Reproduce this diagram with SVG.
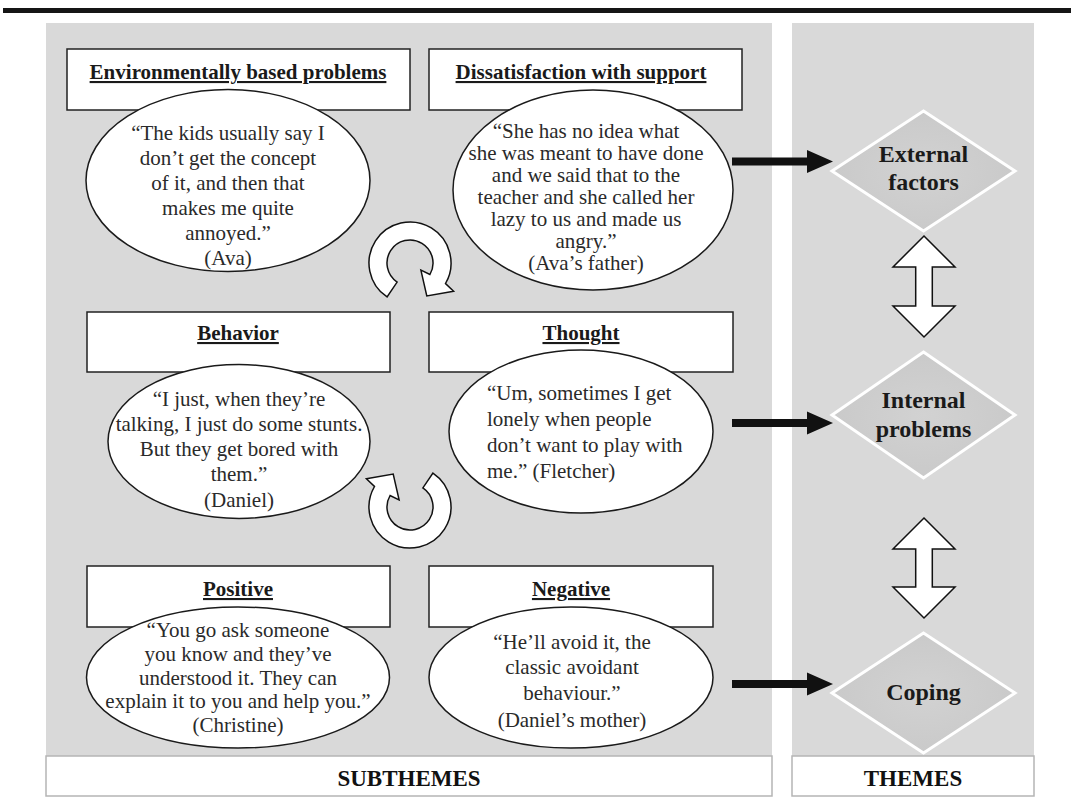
<svg xmlns="http://www.w3.org/2000/svg" width="1071" height="801" viewBox="0 0 1071 801">
<style>
text{font-family:"Liberation Serif","Times New Roman",serif;}
.panel{fill:#d9d9d9;}
.lbl{fill:#ffffff;stroke:#b5b5b5;stroke-width:1.5;}
.lbltxt{font-size:23px;font-weight:bold;fill:#111;text-anchor:middle;}
.box{fill:#ffffff;stroke:#222;stroke-width:1.5;}
.title{font-size:21px;font-weight:bold;fill:#1a1a1a;text-anchor:middle;text-decoration:underline;}
.ell{fill:#ffffff;stroke:#1a1a1a;stroke-width:1.5;}
.q{font-size:21px;fill:#2a2a2a;text-anchor:middle;}
.ql{font-size:21px;fill:#2a2a2a;text-anchor:start;}
.dia{fill:url(#dg);stroke:#ffffff;stroke-width:3;}
.theme{font-size:24px;font-weight:bold;fill:#1a1a1a;text-anchor:middle;}
.cyc{fill:#ffffff;stroke:#111;stroke-width:1.5;stroke-linejoin:miter;}
.dbl{fill:#ffffff;stroke:#111;stroke-width:1.5;}
.blk{fill:#111;}
</style>
<defs>
<radialGradient id="dg" cx="50%" cy="50%" r="60%">
<stop offset="0" stop-color="#d2d2d2"/>
<stop offset="1" stop-color="#c8c8c8"/>
</radialGradient>
<path id="cycle" d="M-22.93,33.99 A41,41 0 1 1 35.51,20.5 L43.61,28.32 L16.8,32.97 L10.9,7.08 L19.92,11.5 A23,23 0 1 0 -12.86,19.07 Z"/>
</defs>
<rect x="0" y="0" width="1071" height="801" fill="#ffffff"/>
<rect x="3" y="8" width="1068" height="5" fill="#151515"/>
<rect class="panel" x="46" y="23" width="726" height="733"/>
<rect class="panel" x="792" y="23" width="242" height="733"/>
<g id="label-subthemes">
<rect class="lbl" x="46" y="756" width="726" height="40"/>
<text class="lbltxt" x="409" y="786">SUBTHEMES</text>
</g>
<g id="label-themes">
<rect class="lbl" x="792" y="756" width="242" height="40"/>
<text class="lbltxt" x="913" y="786">THEMES</text>
</g>
<g id="env">
<rect class="box" x="67" y="49" width="343" height="61"/>
<text class="title" x="238" y="79">Environmentally based problems</text>
<ellipse class="ell" cx="228" cy="180.5" rx="142" ry="91"/>
<text class="q" x="228" y="140">“The kids usually say I</text>
<text class="q" x="228" y="165">don’t get the concept</text>
<text class="q" x="228" y="190">of it, and then that</text>
<text class="q" x="228" y="215">makes me quite</text>
<text class="q" x="228" y="240">annoyed.”</text>
<text class="q" x="228" y="265">(Ava)</text>
</g>
<g id="dissat">
<rect class="box" x="429" y="49" width="313" height="61"/>
<text class="title" x="581" y="79">Dissatisfaction with support</text>
<ellipse class="ell" cx="593" cy="190" rx="140" ry="100"/>
<text class="q" x="586" y="138">“She has no idea what</text>
<text class="q" x="586" y="160">she was meant to have done</text>
<text class="q" x="586" y="182">and we said that to the</text>
<text class="q" x="586" y="204">teacher and she called her</text>
<text class="q" x="586" y="226">lazy to us and made us</text>
<text class="q" x="586" y="248">angry.”</text>
<text class="q" x="586" y="270">(Ava’s father)</text>
</g>
<g id="behavior">
<rect class="box" x="87" y="312" width="303" height="60"/>
<text class="title" x="238" y="340">Behavior</text>
<ellipse class="ell" cx="239" cy="441.5" rx="131" ry="77"/>
<text class="q" x="239" y="406">“I just, when they’re</text>
<text class="q" x="239" y="431">talking, I just do some stunts.</text>
<text class="q" x="239" y="456">But they get bored with</text>
<text class="q" x="239" y="481">them.”</text>
<text class="q" x="239" y="507">(Daniel)</text>
</g>
<g id="thought">
<rect class="box" x="429" y="312" width="304" height="60"/>
<text class="title" x="581" y="340">Thought</text>
<ellipse class="ell" cx="581" cy="431.5" rx="132" ry="81.5"/>
<text class="ql" x="487" y="400">“Um, sometimes I get</text>
<text class="ql" x="487" y="426">lonely when people</text>
<text class="ql" x="487" y="452">don’t want to play with</text>
<text class="ql" x="487" y="478">me.” (Fletcher)</text>
</g>
<g id="positive">
<rect class="box" x="87" y="566" width="303" height="61"/>
<text class="title" x="238" y="596">Positive</text>
<ellipse class="ell" cx="238" cy="677.5" rx="151.5" ry="70.5"/>
<text class="q" x="238" y="637">“You go ask someone</text>
<text class="q" x="238" y="661">you know and they’ve</text>
<text class="q" x="238" y="685">understood it.  They can</text>
<text class="q" x="238" y="708">explain it to you and help you.”</text>
<text class="q" x="238" y="732">(Christine)</text>
</g>
<g id="negative">
<rect class="box" x="429" y="566" width="284" height="61"/>
<text class="title" x="571" y="596">Negative</text>
<ellipse class="ell" cx="571" cy="677.5" rx="142" ry="70.5"/>
<text class="q" x="572" y="649">“He’ll avoid it, the</text>
<text class="q" x="572" y="674">classic avoidant</text>
<text class="q" x="572" y="700">behaviour.”</text>
<text class="q" x="572" y="727">(Daniel’s mother)</text>
</g>
<g id="external">
<polygon class="dia" points="923.5,111 1015,171 923.5,231 832,171"/>
<text class="theme" x="923.5" y="162">External</text>
<text class="theme" x="923.5" y="190">factors</text>
</g>
<g id="internal">
<polygon class="dia" points="923.5,352 1015,415 923.5,478 832,415"/>
<text class="theme" x="923.5" y="408">Internal</text>
<text class="theme" x="923.5" y="437">problems</text>
</g>
<g id="coping">
<polygon class="dia" points="923.5,633 1015,693 923.5,753 832,693"/>
<text class="theme" x="923.5" y="700">Coping</text>
</g>
<g id="connectors">
<use href="#cycle" class="cyc" transform="translate(410,263)"/>
<use href="#cycle" class="cyc" transform="translate(410,507) rotate(180)"/>
<polygon class="blk" points="732,157.5 807,157.5 807,150 833,161.5 807,173 807,165.5 732,165.5"/>
<polygon class="blk" points="732,419 807,419 807,411.5 833,423 807,434.5 807,427 732,427"/>
<polygon class="blk" points="732,680 807,680 807,672.5 833,684 807,695.5 807,688 732,688"/>
<polygon class="dbl" points="924,236 955,267 932.3,267 932.3,306 955,306 924,337 893,306 915.7,306 915.7,267 893,267"/>
<polygon class="dbl" points="924,518 955,549 932.3,549 932.3,587 955,587 924,618 893,587 915.7,587 915.7,549 893,549"/>
</g>
</svg>
